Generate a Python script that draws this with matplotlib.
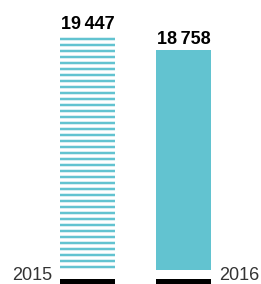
import matplotlib
matplotlib.use("Agg")
import matplotlib.pyplot as plt

# data
years = ['2015', '2016']
values = [19447, 18758]
value_labels = ['19\u2009447', '18\u2009758']

teal = '#62c3d0'
plt.rcParams['font.family'] = ['Liberation Sans', 'DejaVu Sans']
plt.rcParams['hatch.linewidth'] = 2.5
plt.rcParams['hatch.color'] = teal

# 72 dpi so that 1 pt == 1 px (hatch spacing comes out at 6 px)
fig = plt.figure(figsize=(261 / 72, 284 / 72), dpi=72)
ax = fig.add_axes([0, 0, 1, 1])
ax.set_xlim(-0.911, 1.807)
ax.set_ylim(8009, 21054)
ax.axis('off')

x = list(range(len(years)))
w = 0.573
base = 8652

# 2015 striped, 2016 solid
ax.bar(x[0], values[0] - base, bottom=base, width=w, facecolor='white',
       edgecolor=teal, linewidth=0, hatch='--')
ax.bar(x[1], values[1] - base, bottom=base, width=w, color=teal, linewidth=0)

# black markers along the bottom
ax.bar(x, 230, bottom=8009, width=w, color='black', linewidth=0)

for xi, v, lab in zip(x, values, value_labels):
    ax.annotate(lab, (xi, v), xytext=(0, 6), textcoords='offset points',
                ha='center', va='baseline', fontsize=18, fontweight='bold',
                color='black')

ax.annotate(years[0], (x[0] - w / 2, 8009), xytext=(-8, 0),
            textcoords='offset points', ha='right', va='bottom',
            fontsize=18, color='#333333')
ax.annotate(years[1], (x[1] + w / 2, 8009), xytext=(8, 0),
            textcoords='offset points', ha='left', va='bottom',
            fontsize=18, color='#333333', annotation_clip=False)

fig.savefig('out.png', dpi=72)
